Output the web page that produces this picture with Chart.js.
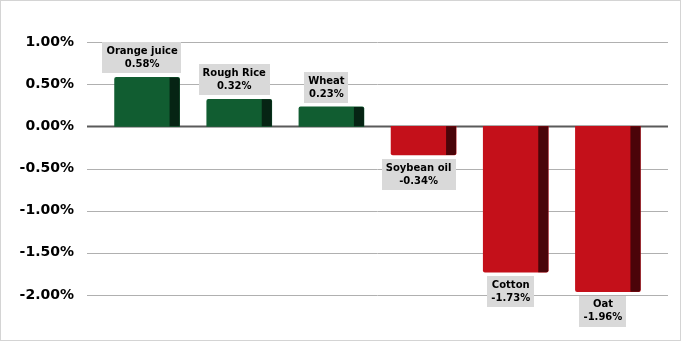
<!DOCTYPE html>
<html>
<head>
<meta charset="utf-8">
<script src="https://cdn.jsdelivr.net/npm/chart.js@4/dist/chart.umd.min.js"></script>
<style>
  html, body { margin: 0; padding: 0; background: #fff; }
  #wrap { width: 681px; height: 341px; box-sizing: border-box; border: 1px solid #d4d4d4; background: #fff; }
  canvas { display: block; }
</style>
</head>
<body>
<div id="wrap"><canvas id="chart" width="679" height="339"></canvas></div>
<script>
const categories = ["Orange juice", "Rough Rice", "Wheat", "Soybean oil", "Cotton", "Oat"];
const changes = [0.58, 0.32, 0.23, -0.34, -1.73, -1.96];
const tickValues = [1, 0.5, 0, -0.5, -1, -1.5, -2];

const FRONT_UP = "#115d31";
const SIDE_UP = "#062414";
const FRONT_DOWN = "#c4101a";
const SIDE_DOWN = "#4b0409";
const SIDE_W = 10;

const fmt = (v) => v.toFixed(2) + "%";

// gridlines run a bit wider than the bars area
const gridPlugin = {
  id: "grid",
  beforeDatasetsDraw(chart) {
    const { ctx } = chart;
    const y = chart.scales.y;
    ctx.save();
    y.ticks.forEach((t) => {
      const py = Math.round(y.getPixelForValue(t.value)) + 0.5;
      ctx.beginPath();
      ctx.moveTo(86, py);
      ctx.lineTo(667, py);
      if (t.value === 0) {
        ctx.strokeStyle = "#5a5a5a";
        ctx.lineWidth = 2;
      } else {
        ctx.strokeStyle = "#b0b0b0";
        ctx.lineWidth = 1;
      }
      ctx.stroke();
    });
    ctx.restore();
  }
};

// dark side face + label boxes
const barDeco = {
  id: "barDeco",
  afterDatasetsDraw(chart) {
    const { ctx } = chart;
    const meta = chart.getDatasetMeta(0);
    ctx.save();
    meta.data.forEach((bar, i) => {
      const v = changes[i];
      const right = bar.x + bar.width / 2;
      const top = Math.min(bar.y, bar.base);
      const h = Math.abs(bar.base - bar.y);
      ctx.fillStyle = v >= 0 ? SIDE_UP : SIDE_DOWN;
      ctx.beginPath();
      if (v >= 0) ctx.roundRect(right - SIDE_W, top, SIDE_W, h, [0, 2, 0, 0]);
      else ctx.roundRect(right - SIDE_W, top, SIDE_W, h, [0, 0, 2, 0]);
      ctx.fill();

      // label
      const cx = bar.x - SIDE_W / 2;
      ctx.font = "bold 10px 'DejaVu Sans'";
      const l1 = categories[i];
      const l2 = fmt(v);
      const w = Math.max(ctx.measureText(l1).width, ctx.measureText(l2).width) + 8;
      const bh = 31;
      const by = v >= 0 ? bar.y - 4 - bh : bar.y + 4;
      ctx.fillStyle = "#d9d9d9";
      ctx.fillRect(Math.round(cx - w / 2), Math.round(by), Math.round(w), bh);
      ctx.fillStyle = "#000";
      ctx.textAlign = "center";
      ctx.textBaseline = "middle";
      ctx.fillText(l1, cx, by + 9);
      ctx.fillText(l2, cx, by + 22);
    });
    ctx.restore();
  }
};

new Chart(document.getElementById("chart"), {
  type: "bar",
  data: {
    labels: categories,
    datasets: [{
      data: changes,
      backgroundColor: changes.map((v) => (v >= 0 ? FRONT_UP : FRONT_DOWN)),
      barThickness: 65,
      borderRadius: 2,
      borderSkipped: "start"
    }]
  },
  options: {
    responsive: false,
    animation: false,
    layout: { padding: { top: 41, right: 26, bottom: 45, left: 0 } },
    plugins: { legend: { display: false }, tooltip: { enabled: false } },
    scales: {
      x: { display: false },
      y: {
        min: -2,
        max: 1,
        afterBuildTicks(scale) {
          scale.ticks = tickValues.map((value) => ({ value }));
        },
        afterFit(scale) { scale.width = 100; },
        grid: { display: false, drawTicks: false },
        border: { display: false },
        ticks: {
          padding: 27,
          color: "#000",
          font: { family: "DejaVu Sans", weight: "bold", size: 14 },
          callback: (v) => fmt(v)
        }
      }
    }
  },
  plugins: [gridPlugin, barDeco]
});
</script>
</body>
</html>
